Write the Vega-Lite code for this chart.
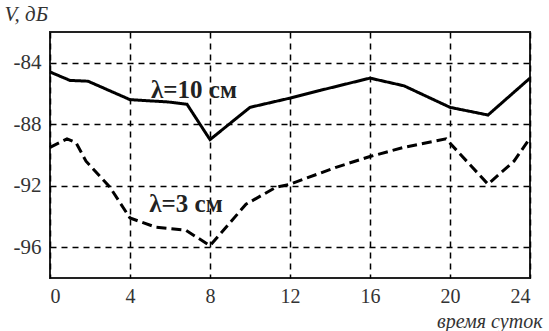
{
  "$schema": "https://vega.github.io/schema/vega-lite/v6.json",
  "width": 480,
  "height": 246,
  "autosize": "none",
  "padding": {"left": 50, "top": 32, "right": 19, "bottom": 53},
  "background": "white",
  "config": {
    "view": {"stroke": "#222", "strokeWidth": 2},
    "font": "Liberation Serif"
  },
  "datasets": {
    "lines": [
      {"s": "10", "t": 0, "v": -84.6},
      {"s": "10", "t": 1, "v": -85.15},
      {"s": "10", "t": 1.9, "v": -85.2},
      {"s": "10", "t": 4, "v": -86.4},
      {"s": "10", "t": 5.9, "v": -86.55},
      {"s": "10", "t": 6.85, "v": -86.7},
      {"s": "10", "t": 8, "v": -89.0},
      {"s": "10", "t": 10, "v": -86.9},
      {"s": "10", "t": 11, "v": -86.6},
      {"s": "10", "t": 12, "v": -86.3},
      {"s": "10", "t": 13.5, "v": -85.8},
      {"s": "10", "t": 16, "v": -85.0},
      {"s": "10", "t": 17.7, "v": -85.5},
      {"s": "10", "t": 20, "v": -86.9},
      {"s": "10", "t": 21.9, "v": -87.4},
      {"s": "10", "t": 24, "v": -85.0},
      {"s": "3", "t": 0, "v": -89.5},
      {"s": "3", "t": 0.85, "v": -88.95},
      {"s": "3", "t": 1.3, "v": -89.2},
      {"s": "3", "t": 1.8, "v": -90.4},
      {"s": "3", "t": 3, "v": -92.1},
      {"s": "3", "t": 4, "v": -94.1},
      {"s": "3", "t": 5.3, "v": -94.7},
      {"s": "3", "t": 6.8, "v": -94.9},
      {"s": "3", "t": 8, "v": -95.9},
      {"s": "3", "t": 9.8, "v": -93.2},
      {"s": "3", "t": 11.3, "v": -92.1},
      {"s": "3", "t": 12, "v": -91.9},
      {"s": "3", "t": 14.3, "v": -90.8},
      {"s": "3", "t": 16, "v": -90.1},
      {"s": "3", "t": 17.7, "v": -89.5},
      {"s": "3", "t": 19.8, "v": -88.95},
      {"s": "3", "t": 21.9, "v": -91.9},
      {"s": "3", "t": 23.2, "v": -90.4},
      {"s": "3", "t": 24, "v": -88.9}
    ],
    "labels": [
      {"t": 7.2, "v": -85.8, "txt": "λ=10 см"},
      {"t": 6.8, "v": -93.2, "txt": "λ=3 см"}
    ]
  },
  "layer": [
    {
      "data": {"name": "lines"},
      "mark": {"type": "line", "color": "black", "strokeWidth": 3},
      "encoding": {
        "x": {
          "field": "t", "type": "quantitative",
          "scale": {"domain": [0, 24], "nice": false},
          "axis": {
            "values": [0, 4, 8, 12, 16, 20, 24],
            "domain": false, "ticks": false,
            "grid": true, "gridColor": "black", "gridDash": [6, 5], "gridWidth": 1.5, "gridOpacity": 1,
            "labelFontSize": 20, "labelColor": "#333", "labelPadding": 8,
            "title": "время суток", "titleFontStyle": "italic", "titleFontWeight": "normal",
            "titleFontSize": 20, "titleColor": "#333",
            "titleAlign": "right", "titleAnchor": null, "titleX": 492, "titleY": 53, "titleBaseline": "bottom"
          }
        },
        "y": {
          "field": "v", "type": "quantitative",
          "scale": {"domain": [-98, -82], "nice": false},
          "axis": {
            "values": [-84, -88, -92, -96],
            "labelExpr": "replace(datum.label, '\u2212', '-')",
            "domain": false, "ticks": false,
            "grid": true, "gridColor": "black", "gridDash": [6, 5], "gridWidth": 1.5, "gridOpacity": 1,
            "labelFontSize": 21, "labelColor": "#333", "labelPadding": 9,
            "title": "V, дБ", "titleFontStyle": "italic", "titleFontWeight": "normal",
            "titleFontSize": 21, "titleColor": "#333", "titleAngle": 0,
            "titleAlign": "left", "titleAnchor": null, "titleX": -46, "titleY": -8, "titleBaseline": "bottom"
          }
        },
        "detail": {"field": "s"},
        "strokeDash": {
          "field": "s", "type": "nominal",
          "scale": {"domain": ["10", "3"], "range": [[1, 0], [10, 5]]},
          "legend": null
        }
      }
    },
    {
      "data": {"name": "labels"},
      "mark": {"type": "text", "fontSize": 25, "fontWeight": "bold", "color": "#222"},
      "encoding": {
        "x": {"field": "t", "type": "quantitative"},
        "y": {"field": "v", "type": "quantitative"},
        "text": {"field": "txt"}
      }
    }
  ]
}
